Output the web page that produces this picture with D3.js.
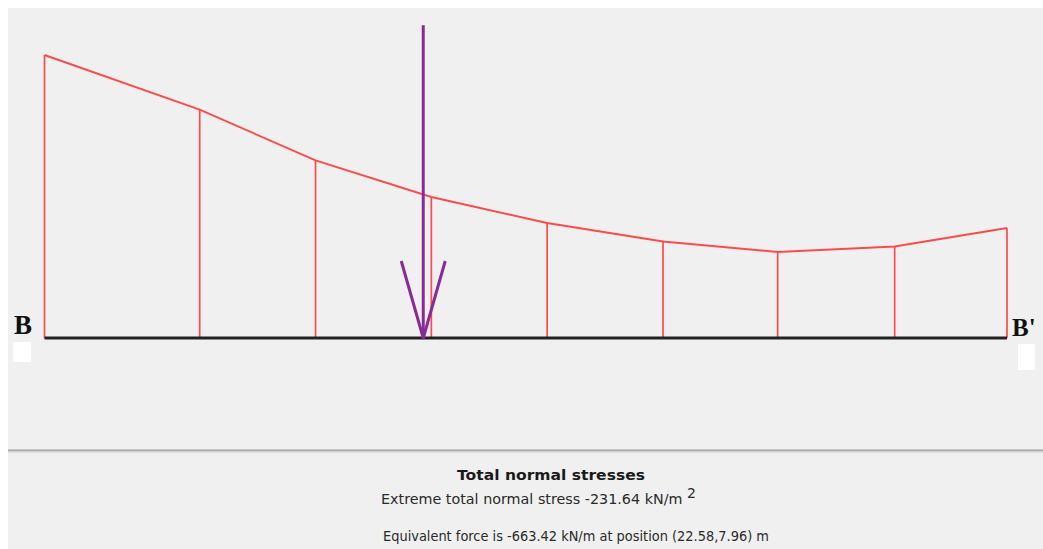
<!DOCTYPE html>
<html><head><meta charset="utf-8">
<script src="https://cdn.jsdelivr.net/npm/d3@7"></script>
<style>html,body{margin:0;padding:0;background:#fff;}svg{display:block;}</style>
</head><body>
<svg id="c" width="1043" height="549"></svg>
<script>
// Data
const positions = [0, 1.34, 2.34, 3.34, 4.34, 5.34, 6.33, 7.34, 8.31];      // distance along B–B'
const stresses  = [-231.64, -187.0, -145.3, -115.4, -94.1, -79.0, -70.4, -74.9, -90.0]; // kN/m²
const endLabels = ["B", "B'"];
const forcePosition = 3.27;
const arrowMagnitude = 256;
const title = "Total normal stresses";
const line1 = "Extreme total normal stress -231.64  kN/m ";
const line2 = "Equivalent force is -663.42 kN/m at position (22.58,7.96) m";

const svg = d3.select("#c");
svg.append("rect").attr("x",8).attr("y",8).attr("width",1035).attr("height",541).attr("fill","#f0f0f0");
svg.append("rect").attr("x",8).attr("y",449).attr("width",1035).attr("height",1).attr("fill","#c8c8c8");
svg.append("rect").attr("x",8).attr("y",450).attr("width",1035).attr("height",1.5).attr("fill","#a8a8a8");
svg.append("rect").attr("x",8).attr("y",451.5).attr("width",1035).attr("height",1.5).attr("fill","#dcdcdc");
svg.append("rect").attr("x",8).attr("y",453).attr("width",1035).attr("height",96).attr("fill","#f0f0f0");

const x = d3.scaleLinear().domain([0, 8.31]).range([44.5, 1007]);
const y = d3.scaleLinear().domain([0, 231.64]).range([338, 55]);
const pts = positions.map((p,i)=>({p, s: stresses[i]}));

const red = "#ff4a4a";
// verticals
svg.append("g").selectAll("line").data(pts).join("line")
  .attr("x1", d=>x(d.p)).attr("x2", d=>x(d.p))
  .attr("y1", y(0)).attr("y2", d=>y(-d.s))
  .attr("stroke", red).attr("stroke-width", 1.7);
// curve
svg.append("path").datum(pts)
  .attr("d", d3.line().x(d=>x(d.p)).y(d=>y(-d.s)))
  .attr("fill","none").attr("stroke", red).attr("stroke-width", 1.9);
// baseline
svg.append("line").attr("x1", x(0)).attr("x2", x(8.31)).attr("y1", y(0)).attr("y2", y(0))
  .attr("stroke", "#222").attr("stroke-width", 3);

// arrow
const purple = "#8a2a98";
const ax = x(forcePosition);
svg.append("line").attr("x1", ax).attr("x2", ax).attr("y1", y(arrowMagnitude)).attr("y2", y(0))
  .attr("stroke", purple).attr("stroke-width", 3);
svg.append("path")
  .attr("d", `M${ax-22},${y(63)} L${ax},${y(0)} L${ax+22},${y(63)}`)
  .attr("fill","none").attr("stroke", purple).attr("stroke-width", 3).attr("stroke-linejoin","round");

// end labels
svg.append("rect").attr("x",13).attr("y",342).attr("width",18).attr("height",20).attr("fill","#fff");
svg.append("rect").attr("x",1018).attr("y",344).attr("width",17).attr("height",26).attr("fill","#fff");
svg.append("text").attr("x", 14).attr("y", 334).text(endLabels[0])
  .attr("font-family","Liberation Serif, serif").attr("font-weight","bold").attr("font-size",27).attr("fill","#111");
svg.append("text").attr("x", 1012).attr("y", 336).text(endLabels[1])
  .attr("font-family","Liberation Serif, serif").attr("font-weight","bold").attr("font-size",25).attr("fill","#111");

// texts
const ff = "DejaVu Sans, Liberation Sans, sans-serif";
svg.append("text").attr("x", 457).attr("y", 480).text(title)
  .attr("font-family", ff).attr("font-weight","bold").attr("font-size",14.5).attr("fill","#1a1a1a")
  .attr("textLength",188).attr("lengthAdjust","spacingAndGlyphs");
const t1 = svg.append("text").attr("x", 381).attr("y", 504)
  .attr("font-family", ff).attr("font-size",13.5).attr("fill","#2a2a2a");
t1.append("tspan").text(line1).attr("textLength",306).attr("lengthAdjust","spacingAndGlyphs");
t1.append("tspan").text("2").attr("dy",-6).attr("font-size",14);
svg.append("text").attr("x", 383).attr("y", 541).text(line2)
  .attr("font-family", ff).attr("font-size",13.5).attr("fill","#2a2a2a")
  .attr("textLength",386).attr("lengthAdjust","spacingAndGlyphs");
</script>
</body></html>
